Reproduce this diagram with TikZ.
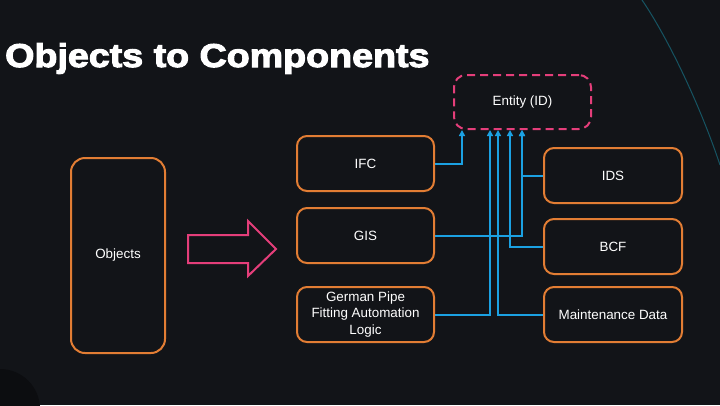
\documentclass[tikz,border=0pt]{standalone}
\usepackage{graphicx}
\usepackage{fontspec}
\setmainfont{Liberation Sans}
\newfontfamily\headfont{Liberation Sans Bold}[FakeBold=3]
\usetikzlibrary{arrows.meta}

\definecolor{bgdark}{RGB}{18,20,24}
\definecolor{bgshade}{RGB}{12,13,16}
\definecolor{boxorange}{RGB}{226,125,52}
\definecolor{linkblue}{RGB}{27,161,226}
\definecolor{dashpink}{RGB}{228,62,122}
\definecolor{arcteal}{RGB}{22,84,98}

\tikzset{
  srcbox/.style={draw=boxorange, line width=2pt, rounded corners=10pt,
    minimum width=137pt, minimum height=55pt, inner sep=0pt,
    text=white, align=center, font=\fontsize{13.4}{16.6}\selectfont},
  idbox/.style={draw=dashpink, line width=2pt, rounded corners=12pt,
    dash pattern=on 8pt off 5pt, minimum width=137pt, minimum height=54pt,
    inner sep=0pt, text=white, font=\fontsize{13.4}{16}\selectfont},
  link/.style={draw=linkblue, line width=2pt,
    -{Triangle[width=6pt,length=6pt]}},
  blockarrow/.style={draw=dashpink, line width=2pt, line join=miter},
}

\begin{document}
\begin{tikzpicture}[x=1pt, y=-1pt]
  % canvas
  \fill[bgdark] (0,0) rectangle (720,405);
  \useasboundingbox (0,0) rectangle (720,405);
  % faint background decoration
  \fill[bgshade] (0,409) circle (40);
  \draw[arcteal, line width=1pt] (642,0) .. controls (668,38) and (700,105) .. (720,165);

  % heading
  \node[anchor=base west, text=white, inner sep=0pt] (title) at (5,67)
    {\headfont\fontsize{33}{33}\selectfont\scalebox{1.14}[1]{Objects to Components}};

  % source object
  \node[srcbox, minimum width=94pt, minimum height=195pt, rounded corners=14pt]
    (obj) at (118,255.5) {Objects};

  % transformation arrow
  \draw[blockarrow] (188,235) -- (248,235) -- (248,221) -- (276,249)
    -- (248,276) -- (248,263) -- (188,263) -- cycle;

  % component sources
  \node[srcbox] (ifc) at (365.5,163.5) {IFC};
  \node[srcbox] (gis) at (365.5,235.5) {GIS};
  \node[srcbox] (gpf) at (365.5,314.5) {German Pipe\\Fitting Automation\\Logic};
  \node[srcbox, minimum width=138pt] (ids) at (613,175.5) {IDS};
  \node[srcbox, minimum width=138pt] (bcf) at (613,246.5) {BCF};
  \node[srcbox, minimum width=138pt] (mnt) at (613,314.5) {Maintenance Data};

  % target entity
  \node[idbox] (ent) at (522.5,102) {Entity (ID)};

  % links into the entity
  \draw[link] (ifc.east) -| ([xshift=9pt]ent.south west);
  \draw[link] (gis.east) -| ([xshift=69pt]ent.south west);
  \draw[link] (ids.west) -| ([xshift=69pt]ent.south west);
  \draw[link] (bcf.west) -| ([xshift=57pt]ent.south west);
  \draw[link] (gpf.east) -| ([xshift=37pt]ent.south west);
  \draw[link] (mnt.west) -| ([xshift=45pt]ent.south west);
\end{tikzpicture}
\end{document}
